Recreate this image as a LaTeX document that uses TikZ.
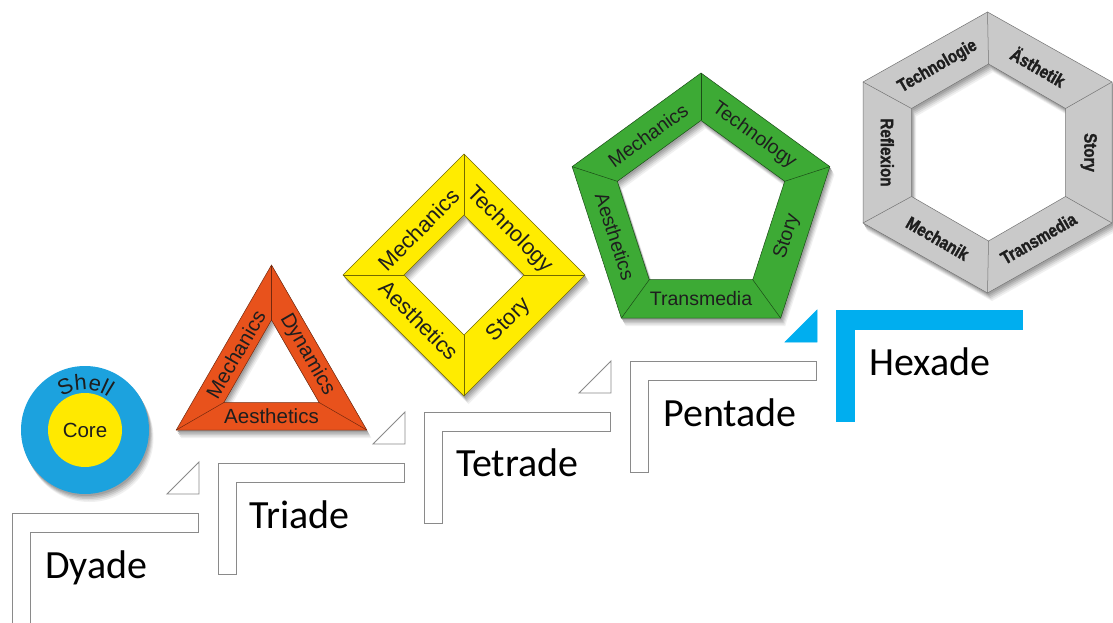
\documentclass[tikz,border=0pt]{standalone}
\usepackage{fontspec}
\usetikzlibrary{calc,decorations.text}
\newfontfamily\stepfont{Carlito}
\newfontfamily\shapefont{Liberation Sans}
\newfontfamily\hexfont[FakeStretch=0.84,BoldFeatures={FakeBold=1.5}]{Liberation Sans}
\definecolor{shellblue}{HTML}{1CA2DE}
\definecolor{coreyellow}{HTML}{FFE900}
\definecolor{triorange}{HTML}{E8521C}
\definecolor{sqyellow}{HTML}{FFEC00}
\definecolor{pentgreen}{HTML}{3DAA35}
\definecolor{hexgray}{HTML}{C9C9C9}
\definecolor{bracketgray}{HTML}{8A8A8A}
\definecolor{hexblue}{HTML}{00AEEF}
\definecolor{inktext}{HTML}{1E1E1E}
\newcommand\castshadow[1]{%
  \fill[black!6,even odd rule,transform canvas={shift={(4.5,8)}}] #1;
  \fill[black!13,even odd rule,transform canvas={shift={(3.6,6.5)}}] #1;
  \fill[black!21,even odd rule,transform canvas={shift={(2.8,5)}}] #1;
  \fill[black!29,even odd rule,transform canvas={shift={(2,3.5)}}] #1;
  \fill[black!37,even odd rule,transform canvas={shift={(1.2,2)}}] #1;}
\newcommand\stepL[2]{(#1,#2) -- ++(186,0) -- ++(0,19) -- ++(-168,0) -- ++(0,92) -- ++(-18,0) -- cycle}
\newcommand\stepT[2]{(#1+155,#2-19) -- (#1+187,#2-19) -- (#1+187,#2-51) -- cycle}
\begin{document}
\begin{tikzpicture}[x=1pt,y=-1pt,
  seam/.style={line width=0.5pt,line join=miter},
  shapetext/.style={text=inktext,inner sep=0pt},
  hextext/.style={font={\hexfont\bfseries\fontsize{18}{20}\selectfont},text=inktext,inner sep=0pt},
  steptext/.style={font={\stepfont\fontsize{40}{48}\selectfont},anchor=base west,inner sep=0pt,text=black},
  stepbox/.style={draw=bracketgray,fill=white,line width=0.9pt,line join=miter},
  bluebox/.style={draw=hexblue,fill=hexblue,line width=0.5pt}]
\useasboundingbox (0,0) rectangle (1113,623);
\fill[white] (0,0) rectangle (1113,623);

% ---------- step brackets ----------
\path[stepbox] \stepL{12}{513};
\path[stepbox] \stepT{12}{513};
\path[stepbox] \stepL{218}{463};
\path[stepbox] \stepT{218}{463};
\path[stepbox] \stepL{424}{412};
\path[stepbox] \stepT{424}{412};
\path[stepbox] \stepL{630}{361};
\path[bluebox] \stepT{630}{361};
\path[bluebox] \stepL{836}{310};

\node[steptext] (dyade) at (45,578) {Dyade};
\node[steptext] (triade) at (249,528) {Triade};
\node[steptext] (tetrade) at (456,476) {Tetrade};
\node[steptext] (pentade) at (663,426) {Pentade};
\node[steptext] (hexade) at (869,375) {Hexade};

% ---------- Dyade: circle ----------
\coordinate (Cc) at (85,430);
\castshadow{(Cc) circle[radius=64]}
\fill[shellblue] (Cc) circle[radius=64];
\fill[coreyellow] (Cc) circle[radius=37];
\node[shapetext,font={\shapefont\fontsize{20.5}{22}\selectfont}] (core) at (Cc) {Core};
\path[decorate,decoration={text along path,text align=center,text color=inktext,
  text={|\shapefont\fontsize{22}{22}\selectfont|Shell}}]
  ($(Cc)+(-158:40)$) arc[start angle=-158,end angle=-22,radius=40];

% ---------- Triade: triangle ----------
\coordinate (Tc) at (271.5,375);
\foreach \k in {0,1,2}{
  \coordinate (To\k) at ($(Tc)+({-(90+120*\k)}:110)$);
  \coordinate (Ti\k) at ($(Tc)+({-(90+120*\k)}:55)$);
}
\castshadow{(To0)--(To1)--(To2)--cycle (Ti0)--(Ti1)--(Ti2)--cycle}
\fill[triorange,even odd rule] (To0)--(To1)--(To2)--cycle (Ti0)--(Ti1)--(Ti2)--cycle;
\draw[seam,draw=triorange!50!black] (To0)--(To1)--(To2)--cycle (Ti0)--(Ti1)--(Ti2)--cycle;
\foreach \k in {0,1,2}{\draw[seam,draw=triorange!50!black] (To\k)--(Ti\k);}
\begin{scope}[every node/.style={shapetext,font={\shapefont\fontsize{20.5}{22}\selectfont}}]
\node[rotate=60] (tri-mech) at ($(Tc)+(-150:41.25)$) {Mechanics};
\node[rotate=-60] (tri-dyn) at ($(Tc)+(-30:41.25)$) {Dynamics};
\node (tri-aes) at ($(Tc)+(-270:41.25)$) {Aesthetics};
\end{scope}

% ---------- Tetrade: diamond ----------
\coordinate (Dc) at (464,275);
\foreach \k in {0,1,2,3}{
  \coordinate (Do\k) at ($(Dc)+({-(90+90*\k)}:121)$);
  \coordinate (Di\k) at ($(Dc)+({-(90+90*\k)}:60)$);
}
\castshadow{(Do0)--(Do1)--(Do2)--(Do3)--cycle (Di0)--(Di1)--(Di2)--(Di3)--cycle}
\fill[sqyellow,even odd rule] (Do0)--(Do1)--(Do2)--(Do3)--cycle (Di0)--(Di1)--(Di2)--(Di3)--cycle;
\draw[seam,draw=sqyellow!45!black] (Do0)--(Do1)--(Do2)--(Do3)--cycle (Di0)--(Di1)--(Di2)--(Di3)--cycle;
\foreach \k in {0,1,2,3}{\draw[seam,draw=sqyellow!45!black] (Do\k)--(Di\k);}
\begin{scope}[every node/.style={shapetext,font={\shapefont\fontsize{22}{24}\selectfont}}]
\node[rotate=45] (sq-mech) at ($(Dc)+(-135:64)$) {Mechanics};
\node[rotate=-45] (sq-tech) at ($(Dc)+(-45:64)$) {Technology};
\node[rotate=-45] (sq-aes) at ($(Dc)+(-225:64)$) {Aesthetics};
\node[rotate=45] (sq-story) at ($(Dc)+(-315:64)$) {Story};
\end{scope}

% ---------- Pentade: pentagon ----------
\coordinate (Pc) at (701,208.5);
\foreach \k in {0,...,4}{
  \coordinate (Po\k) at ($(Pc)+({-(90+72*\k)}:135.5)$);
  \coordinate (Pi\k) at ($(Pc)+({-(90+72*\k)}:88)$);
}
\castshadow{(Po0)--(Po1)--(Po2)--(Po3)--(Po4)--cycle (Pi0)--(Pi1)--(Pi2)--(Pi3)--(Pi4)--cycle}
\fill[pentgreen,even odd rule] (Po0)--(Po1)--(Po2)--(Po3)--(Po4)--cycle (Pi0)--(Pi1)--(Pi2)--(Pi3)--(Pi4)--cycle;
\draw[seam,draw=pentgreen!45!black] (Po0)--(Po1)--(Po2)--(Po3)--(Po4)--cycle (Pi0)--(Pi1)--(Pi2)--(Pi3)--(Pi4)--cycle;
\foreach \k in {0,...,4}{\draw[seam,draw=pentgreen!45!black] (Po\k)--(Pi\k);}
\begin{scope}[every node/.style={shapetext,font={\shapefont\fontsize{19.5}{22}\selectfont}}]
\node[rotate=36] (pe-mech) at ($(Pc)+(-126:90.4)$) {Mechanics};
\node[rotate=-36] (pe-tech) at ($(Pc)+(-54:90.4)$) {Technology};
\node[rotate=72] (pe-story) at ($(Pc)+(-342:90.4)$) {Story};
\node (pe-trans) at ($(Pc)+(-270:90.4)$) {Transmedia};
\node[rotate=-72] (pe-aes) at ($(Pc)+(-198:90.4)$) {Aesthetics};
\end{scope}

% ---------- Hexade: hexagon ----------
\coordinate (Ho0) at (987.5,12);
\coordinate (Ho1) at (1112,82);
\coordinate (Ho2) at (1112,223);
\coordinate (Ho3) at (987.5,293);
\coordinate (Ho4) at (863,223);
\coordinate (Ho5) at (863,82);
\coordinate (Hi0) at (988.5,64);
\coordinate (Hi1) at (1065.5,108.5);
\coordinate (Hi2) at (1065.5,196.5);
\coordinate (Hi3) at (988.5,241);
\coordinate (Hi4) at (911.5,196.5);
\coordinate (Hi5) at (911.5,108.5);
\castshadow{(Ho0)--(Ho1)--(Ho2)--(Ho3)--(Ho4)--(Ho5)--cycle (Hi0)--(Hi1)--(Hi2)--(Hi3)--(Hi4)--(Hi5)--cycle}
\fill[hexgray,even odd rule] (Ho0)--(Ho1)--(Ho2)--(Ho3)--(Ho4)--(Ho5)--cycle (Hi0)--(Hi1)--(Hi2)--(Hi3)--(Hi4)--(Hi5)--cycle;
\draw[seam,draw=black!55] (Ho0)--(Ho1)--(Ho2)--(Ho3)--(Ho4)--(Ho5)--cycle (Hi0)--(Hi1)--(Hi2)--(Hi3)--(Hi4)--(Hi5)--cycle;
\foreach \k in {0,...,5}{\draw[seam,draw=black!55] (Ho\k)--(Hi\k);}
\node[hextext,rotate=30] (hx-tech) at (937.6,66.6) {Technologie};
\node[hextext,rotate=-30] (hx-aes) at (1038.4,66.6) {Ästhetik};
\node[hextext,rotate=-90] (hx-story) at (1088.75,152.5) {Story};
\node[hextext,rotate=30] (hx-trans) at (1038.4,238.4) {Transmedia};
\node[hextext,rotate=-30] (hx-mech) at (937.6,238.4) {Mechanik};
\node[hextext,rotate=-90] (hx-refl) at (887.25,152.5) {Reflexion};
\end{tikzpicture}
\end{document}
